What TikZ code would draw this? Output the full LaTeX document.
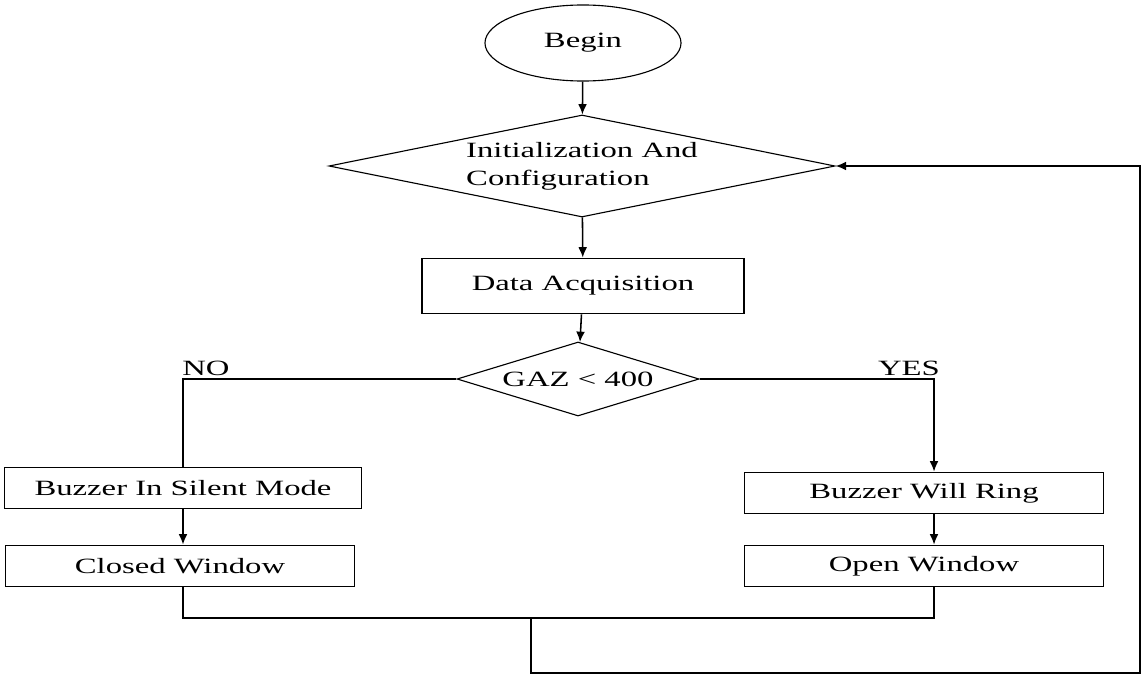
\documentclass[tikz,border=0pt]{standalone}
\usepackage{fontspec}
\setmainfont{Liberation Serif}[FakeStretch=1.5]
\usetikzlibrary{arrows.meta,shapes.geometric}

\begin{document}
\begin{tikzpicture}[x=0.025cm,y=-0.025cm,>={Latex[length=2.6mm,width=2.2mm]},line width=1.1pt,
  font=\fontsize{15.5}{20}\selectfont,
  start node/.style={ellipse,draw,line width=0.8pt,inner sep=0pt,minimum width=4.9cm,minimum height=1.9cm},
  test node/.style={diamond,draw,line width=0.8pt,inner sep=0pt},
  action node/.style={rectangle,draw,inner sep=0pt,minimum height=1.03cm}]

  \useasboundingbox (0,0) rectangle (1143,677);

  \node[start node] (begin) at (583,43) {Begin};
  \node[test node,aspect=4.96,minimum width=12.65cm,minimum height=2.55cm,align=left] (init) at (582,166) {Initialization And\\Configuration};
  \node[action node,minimum width=8.05cm,minimum height=1.38cm] (acq) at (583,286) {Data Acquisition};
  \node[test node,aspect=3.27,minimum width=6.05cm,minimum height=1.85cm] (gaz) at (578,379) {GAZ < 400};

  \node[action node,minimum width=8.93cm] (silent) at (183,488) {Buzzer In Silent Mode};
  \node[action node,minimum width=8.73cm] (closed) at (180,566) {Closed Window};
  \node[action node,minimum width=8.98cm] (ring) at (924,493) {Buzzer Will Ring};
  \node[action node,minimum width=8.98cm] (open) at (924,566) {Open Window};

  \node (no) at (206,368) {NO};
  \node (yes) at (909,368) {YES};

  \coordinate (yesturn) at (934,379);
  \coordinate (joinL) at (183,618);
  \coordinate (joinR) at (934,618);
  \coordinate (loopTop) at (531,618);
  \coordinate (loopBL) at (531,673);
  \coordinate (loopBR) at (1140,673);
  \coordinate (loopTR) at (1140,166);

%main column
  \draw [->] (begin) -- (init);
  \draw [->] (init) -- (acq);
  \draw [->] (acq) -- (gaz);

%branch no
  \draw (gaz.west) -| (silent.north);
  \draw [->] (silent.south) -- (closed.north -| silent.south);

%branch yes
  \draw [->] (gaz.east) -- (yesturn) -- (yesturn |- ring.north);
  \draw [->] (ring.south -| yesturn) -- (open.north -| yesturn);

%back to the start
  \draw (closed.south -| joinL) -- (joinL) -- (joinR) -- (open.south -| joinR);
  \draw [->] (loopTop) -- (loopBL) -- (loopBR) -- (loopTR) -- (init.east);

\end{tikzpicture}
\end{document}
